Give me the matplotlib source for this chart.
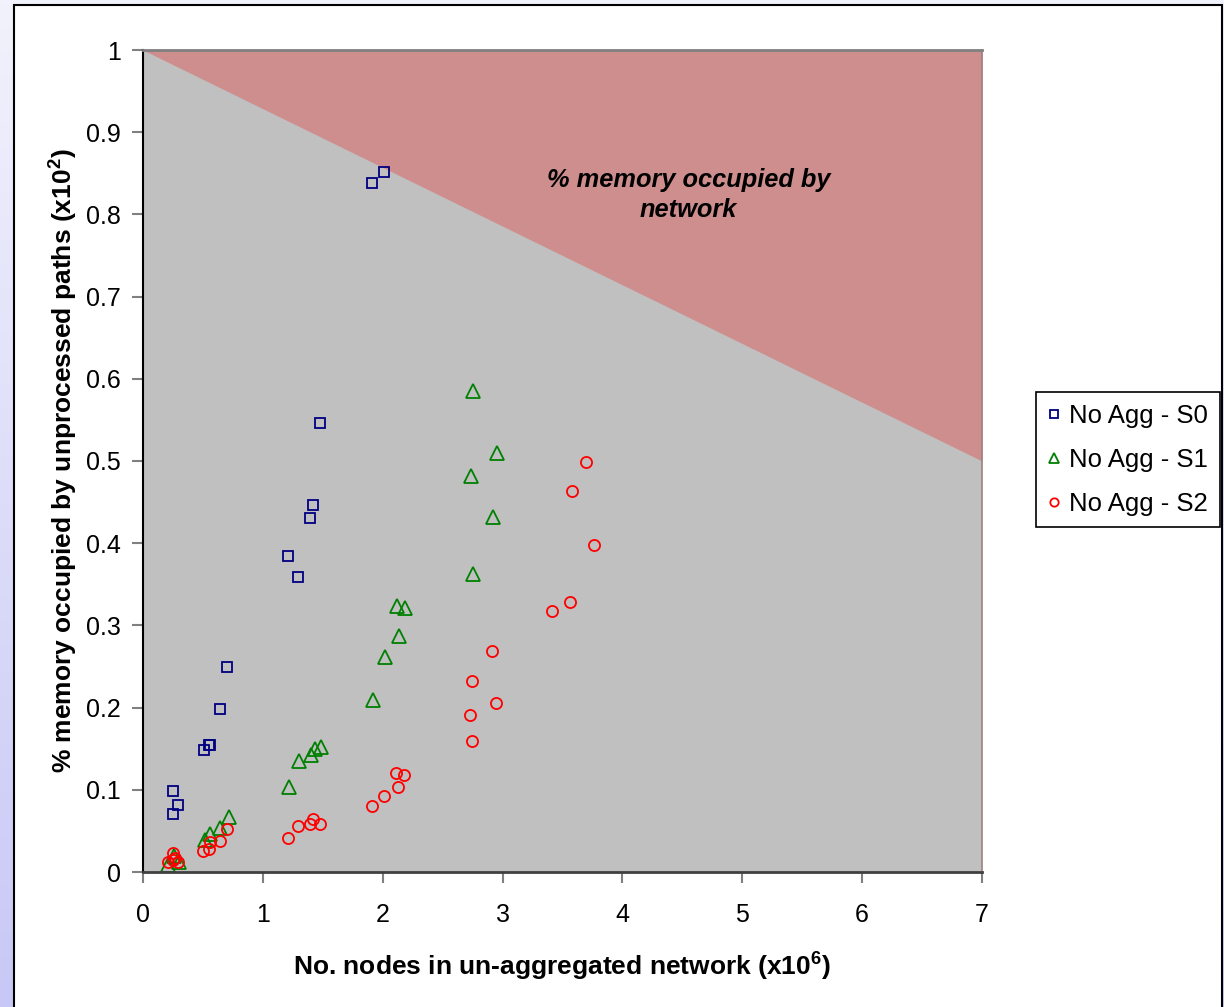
import numpy as np
import matplotlib
matplotlib.use("Agg")
import matplotlib.pyplot as plt
from matplotlib.patches import Rectangle

plt.rcParams["font.family"] = ["Liberation Sans", "DejaVu Sans"]
plt.rcParams["mathtext.fontset"] = "custom"
plt.rcParams["mathtext.rm"] = "Liberation Sans"
plt.rcParams["mathtext.bf"] = "Liberation Sans:bold"

# boundary of the "memory occupied by network" region
net_x = [0, 7]
net_y = [1.0, 0.5]

s0_x = [2.01, 1.91, 1.48, 1.42, 1.39, 1.21, 1.29, 0.70, 0.64, 0.56, 0.553, 0.509, 0.253, 0.289, 0.253]
s0_y = [0.852, 0.838, 0.546, 0.447, 0.431, 0.385, 0.359, 0.250, 0.198, 0.155, 0.154, 0.149, 0.098, 0.082, 0.071]

s1_x = [2.75, 2.95, 2.74, 2.92, 2.75, 2.12, 2.19, 2.14, 2.02, 1.92, 1.215, 1.30, 1.40, 1.435, 1.485,
        0.715, 0.64, 0.56, 0.515, 0.21, 0.30, 0.26]
s1_y = [0.585, 0.510, 0.482, 0.432, 0.362, 0.324, 0.321, 0.287, 0.261, 0.209, 0.103, 0.135, 0.142, 0.150, 0.152,
        0.067, 0.054, 0.046, 0.039, 0.008, 0.0125, 0.020]

s2_x = [3.70, 3.58, 3.76, 3.56, 3.41, 2.945, 2.73, 2.745, 2.11, 2.175, 2.13, 2.01, 2.91, 2.745, 1.91,
        1.21, 1.29, 1.39, 1.42, 1.48, 0.70, 0.64, 0.56, 0.55, 0.50, 0.205, 0.253, 0.29, 0.253, 0.267]
s2_y = [0.499, 0.463, 0.398, 0.328, 0.318, 0.206, 0.191, 0.159, 0.121, 0.118, 0.103, 0.093, 0.269, 0.232, 0.080,
        0.041, 0.056, 0.059, 0.065, 0.058, 0.052, 0.038, 0.036, 0.028, 0.025, 0.012, 0.023, 0.0125, 0.015, 0.017]

labels = ["No Agg - S0", "No Agg - S1", "No Agg - S2"]
x_ticks = [0, 1, 2, 3, 4, 5, 6, 7]
y_ticks = [0, 0.1, 0.2, 0.3, 0.4, 0.5, 0.6, 0.7, 0.8, 0.9, 1]
y_ticklabels = ["0", "0.1", "0.2", "0.3", "0.4", "0.5", "0.6", "0.7", "0.8", "0.9", "1"]

fig = plt.figure(figsize=(12.24, 10.07), dpi=100)

# lavender gradient background with white chart frame
bg = fig.add_axes([0, 0, 1, 1], zorder=-10)
grad = np.linspace(0, 1, 256).reshape(-1, 1)
bg.imshow(grad, aspect="auto", extent=[0, 1, 0, 1],
          cmap=matplotlib.colors.LinearSegmentedColormap.from_list("lav", ["#F2F2FC", "#C8C8F6"]))
bg.add_patch(Rectangle((14 / 1224, -0.01), (1222 - 14) / 1224, 1.01 - 5 / 1007,
                       facecolor="white", edgecolor="black", linewidth=1.5))
bg.set_xlim(0, 1)
bg.set_ylim(0, 1)
bg.axis("off")

ax = fig.add_axes([143 / 1224, 1 - 872 / 1007, (982 - 143) / 1224, (872 - 50) / 1007])
ax.set_facecolor("#C0C0C0")
ax.fill_between(net_x, net_y, 1, color="#CF8E8E", linewidth=0)

ax.plot(s0_x, s0_y, "s", ms=7.5, mfc="none", mec="#000080", mew=1.3, label=labels[0], clip_on=False)
ax.plot(s1_x, s1_y, "^", ms=9.5, mfc="none", mec="#008000", mew=1.3, label=labels[1], clip_on=False)
ax.plot(s2_x, s2_y, "o", ms=8, mfc="none", mec="#FF0000", mew=1.3, label=labels[2], clip_on=False)

ax.text(4.55, 0.824, "% memory occupied by\nnetwork", ha="center", va="center",
        fontsize=18.3, fontweight="bold", fontstyle="italic", linespacing=1.3)

ax.set_xlim(0, 7)
ax.set_ylim(0, 1)
ax.set_xticks(x_ticks)
ax.set_yticks(y_ticks)
ax.set_yticklabels(y_ticklabels)
ax.tick_params(direction="out", length=8, width=1.5, color="#808080", labelsize=18)
ax.tick_params(axis="x", pad=14)
ax.tick_params(axis="y", pad=8)

ax.spines["left"].set_color("black")
ax.spines["left"].set_linewidth(1.5)
ax.spines["bottom"].set_color("#404040")
ax.spines["bottom"].set_linewidth(2)
ax.spines["top"].set_color("#808080")
ax.spines["top"].set_linewidth(2)
ax.spines["right"].set_color("#A08080")
ax.spines["right"].set_linewidth(1.2)

ax.set_xlabel(r"No. nodes in un-aggregated network (x10$^{\mathbf{6}}$)", fontsize=19, fontweight="bold")
ax.set_ylabel(r"% memory occupied by unprocessed paths (x10$^{\mathbf{2}}$)", fontsize=19, fontweight="bold")
ax.xaxis.set_label_coords(0.5, -0.094)
ax.yaxis.set_label_coords(-0.076, 0.5)

leg = fig.legend(loc="upper left", bbox_to_anchor=(1036 / 1224, 1 - 392 / 1007), fontsize=18.5,
                 frameon=True, fancybox=False, edgecolor="black", framealpha=1, markerscale=0.75,
                 handlelength=0.5, handletextpad=0.35, borderpad=0.45, labelspacing=0.78,
                 borderaxespad=0)
leg.get_frame().set_linewidth(1.2)

plt.savefig("out.png", dpi=100)
